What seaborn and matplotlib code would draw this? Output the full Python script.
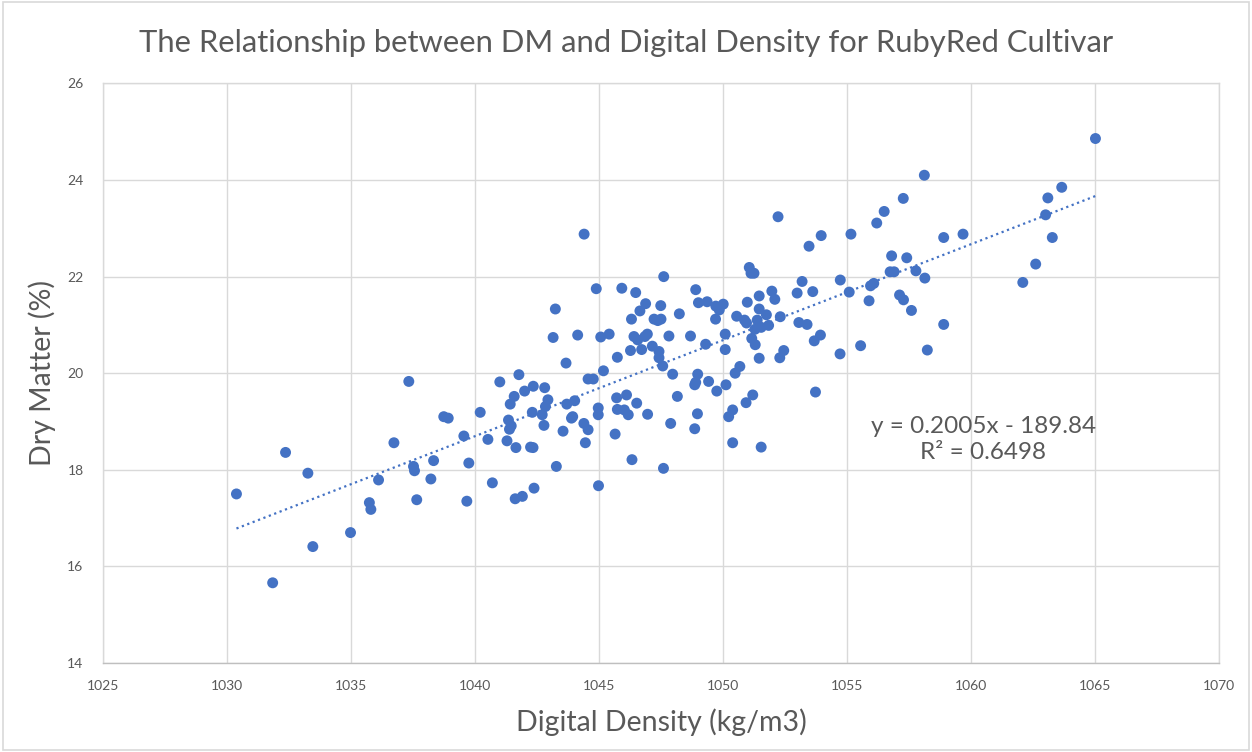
import numpy as np
import pandas as pd
import matplotlib
matplotlib.use('Agg')
import matplotlib.pyplot as plt
import seaborn as sns

# Digital density (kg/m3) readings
density = [
    1030.38, 1031.84, 1032.36, 1033.26, 1033.46, 1034.98, 1035.74, 1035.80, 1036.11, 1036.73,
    1037.33, 1037.52, 1037.56, 1038.33, 1038.22, 1037.65, 1038.74, 1038.92, 1039.55, 1039.75,
    1039.67, 1040.21, 1040.52, 1040.70, 1041.00, 1041.77, 1041.58, 1041.42, 1041.35, 1041.46,
    1041.39, 1041.29, 1041.65, 1041.62, 1041.91, 1042.00, 1042.35, 1042.31, 1042.24, 1042.34,
    1042.38, 1042.81, 1042.94, 1042.84, 1042.71, 1042.78, 1043.24, 1043.15, 1043.28, 1043.67,
    1043.55, 1043.70, 1044.02, 1043.89, 1043.94, 1044.14, 1044.39, 1044.56, 1044.45, 1044.56,
    1044.77, 1045.07, 1045.41, 1045.18, 1044.97, 1044.97, 1045.65, 1044.98, 1045.74, 1045.71,
    1045.74, 1044.40, 1044.89, 1047.61, 1045.92, 1046.48, 1046.88, 1046.65, 1046.31, 1047.49,
    1047.22, 1047.37, 1047.50, 1048.24, 1048.90, 1049.01, 1049.36, 1049.71, 1049.85, 1050.01,
    1049.70, 1046.41, 1046.56, 1046.95, 1046.85, 1047.82, 1048.69, 1047.15, 1046.27, 1046.72,
    1047.42, 1047.42, 1047.57, 1049.30, 1050.09, 1050.09, 1050.68, 1050.55, 1050.87, 1050.95,
    1050.98, 1051.06, 1051.13, 1051.25, 1051.46, 1051.46, 1051.38, 1051.29, 1051.16, 1051.30,
    1051.46, 1047.97, 1048.98, 1048.90, 1048.86, 1049.42, 1049.75, 1050.12, 1050.49, 1046.11,
    1046.52, 1046.02, 1046.18, 1046.96, 1048.16, 1048.97, 1047.89, 1048.86, 1046.33, 1047.60,
    1050.39, 1050.23, 1050.93, 1051.20, 1050.39, 1051.54, 1052.22, 1053.96, 1053.47, 1055.16,
    1056.50, 1056.20, 1057.27, 1053.19, 1054.73, 1051.97, 1052.09, 1052.99, 1053.62, 1051.75,
    1051.54, 1051.84, 1052.31, 1053.06, 1053.39, 1053.68, 1053.93, 1052.45, 1052.29, 1054.72,
    1055.55, 1058.24, 1055.09, 1055.89, 1055.95, 1056.08, 1056.80, 1057.41, 1056.74, 1056.90,
    1057.78, 1058.14, 1057.12, 1057.28, 1057.60, 1053.73, 1065.02, 1058.12, 1063.66, 1063.10,
    1063.01, 1063.28, 1062.61, 1062.09, 1058.90, 1059.68, 1058.90,
]

# Dry matter (%) for the same fruit
dry_matter = [
    17.50, 15.66, 18.36, 17.93, 16.41, 16.70, 17.32, 17.18, 17.79, 18.56,
    19.83, 18.07, 17.98, 18.19, 17.81, 17.38, 19.10, 19.07, 18.70, 18.14,
    17.35, 19.19, 18.63, 17.73, 19.82, 19.97, 19.52, 19.36, 19.03, 18.91,
    18.84, 18.60, 18.46, 17.40, 17.45, 19.63, 19.73, 19.19, 18.47, 18.46,
    17.62, 19.70, 19.45, 19.31, 19.14, 18.92, 21.33, 20.74, 18.07, 20.21,
    18.80, 19.36, 19.43, 19.07, 19.10, 20.79, 18.96, 18.83, 18.56, 19.88,
    19.88, 20.75, 20.81, 20.05, 19.28, 19.14, 18.74, 17.67, 20.33, 19.49,
    19.25, 22.88, 21.75, 22.00, 21.76, 21.67, 21.44, 21.29, 21.12, 21.40,
    21.12, 21.09, 21.12, 21.23, 21.73, 21.46, 21.48, 21.39, 21.31, 21.43,
    21.12, 20.76, 20.69, 20.81, 20.76, 20.77, 20.77, 20.56, 20.47, 20.49,
    20.45, 20.32, 20.15, 20.60, 20.81, 20.49, 20.14, 21.18, 21.10, 21.04,
    21.47, 22.19, 22.07, 22.07, 21.60, 21.33, 21.10, 20.91, 20.72, 20.59,
    20.31, 19.98, 19.98, 19.81, 19.76, 19.83, 19.63, 19.76, 20.00, 19.55,
    19.38, 19.24, 19.14, 19.15, 19.52, 19.16, 18.96, 18.85, 18.21, 18.03,
    19.24, 19.10, 19.39, 19.55, 18.56, 18.47, 23.24, 22.85, 22.63, 22.88,
    23.35, 23.11, 23.62, 21.90, 21.93, 21.70, 21.53, 21.66, 21.69, 21.21,
    20.95, 20.99, 21.17, 21.05, 21.01, 20.67, 20.79, 20.47, 20.32, 20.40,
    20.57, 20.48, 21.68, 21.50, 21.81, 21.86, 22.43, 22.39, 22.10, 22.10,
    22.12, 21.97, 21.62, 21.52, 21.30, 19.61, 24.86, 24.10, 23.85, 23.63,
    23.28, 22.81, 22.26, 21.88, 22.81, 22.88, 21.01,
]

x_ticks = [1025, 1030, 1035, 1040, 1045, 1050, 1055, 1060, 1065, 1070]
y_ticks = [14, 16, 18, 20, 22, 24, 26]

df = pd.DataFrame({'density': density, 'dm': dry_matter})

blue = '#4472C4'
grey_text = '#595959'
grid_col = '#D9D9D9'

sns.set_style('white')
plt.rcParams['font.family'] = ['Lato', 'DejaVu Sans']

fig = plt.figure(figsize=(12.52, 7.52), dpi=100)
ax = fig.add_axes([0.0823, 0.1184, 0.8913, 0.7706])

# Points
sns.scatterplot(data=df, x='density', y='dm', ax=ax, color=blue, s=62,
                edgecolor='none', linewidth=0, zorder=3)

# Linear trendline (dotted, Excel style)
sns.regplot(data=df, x='density', y='dm', ax=ax, scatter=False, ci=None,
            truncate=True, color=blue,
            line_kws={'linestyle': (0, (1, 1.6)), 'linewidth': 1.6, 'zorder': 2})

ax.set_xlim(1025, 1070)
ax.set_ylim(14, 26)
ax.set_xticks(x_ticks)
ax.set_yticks(y_ticks)
ax.grid(True, color=grid_col, linewidth=1.0)
ax.set_axisbelow(True)
for side in ['top', 'right', 'left', 'bottom']:
    ax.spines[side].set_color(grid_col)
    ax.spines[side].set_linewidth(1.0)
ax.spines['bottom'].set_color('#BFBFBF')
ax.tick_params(axis='both', colors=grey_text, labelsize=10, length=0, pad=12)
ax.tick_params(axis='y', pad=14)

ax.set_xlabel('Digital Density (kg/m3)', fontsize=20.5, color=grey_text, labelpad=12)
ax.set_ylabel('Dry Matter (%)', fontsize=20.5, color=grey_text, labelpad=8)
fig.suptitle('The Relationship between DM and Digital Density for RubyRed Cultivar',
             fontsize=22.3, color=grey_text, y=0.962)

# Trendline equation label
ax.text(1060.5, 18.62, 'y = 0.2005x - 189.84\nR² = 0.6498', fontsize=17.5,
        color=grey_text, ha='center', va='center', linespacing=1.3)

# Chart area border
fig.patches.append(plt.Rectangle((0.002, 0.002), 0.996, 0.996, transform=fig.transFigure,
                                 fill=False, edgecolor=grid_col, linewidth=1.2))

fig.savefig('out.png', dpi=100)
